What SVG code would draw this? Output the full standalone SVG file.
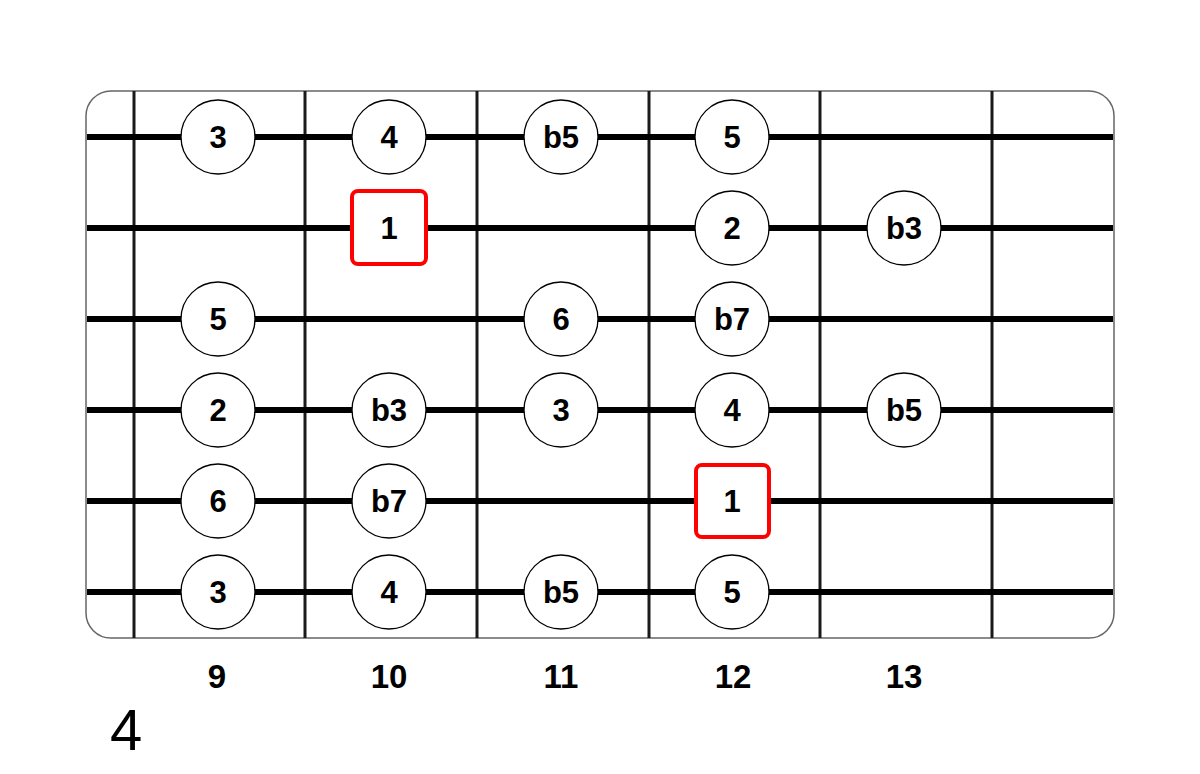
<svg xmlns="http://www.w3.org/2000/svg" width="1200" height="774" viewBox="0 0 1200 774">
<style>
.fret{stroke:#1a1a1a;stroke-width:3}
.str{stroke:#000;stroke-width:6}
.note circle{fill:#fff;stroke:#000;stroke-width:1.3}
.root rect{fill:#fff;stroke:#f00;stroke-width:4}
.lbl{font-family:"Liberation Sans",Arial,sans-serif;font-weight:bold;font-size:31px;text-anchor:middle;fill:#000}
.fn{font-family:"Liberation Sans",Arial,sans-serif;font-weight:bold;font-size:33px;text-anchor:middle;fill:#000}
</style>
<rect width="1200" height="774" fill="#fff"/>
<rect id="board" x="86" y="91" width="1028" height="547" rx="25" fill="#fff" stroke="#666" stroke-width="1.5"/>
<g id="connectors">
<line class="fret" x1="134" y1="91" x2="134" y2="638"/>
<line class="fret" x1="305" y1="91" x2="305" y2="638"/>
<line class="fret" x1="477" y1="91" x2="477" y2="638"/>
<line class="fret" x1="649" y1="91" x2="649" y2="638"/>
<line class="fret" x1="820" y1="91" x2="820" y2="638"/>
<line class="fret" x1="992" y1="91" x2="992" y2="638"/>
<line class="str" x1="87" y1="137" x2="1113" y2="137"/>
<line class="str" x1="87" y1="228" x2="1113" y2="228"/>
<line class="str" x1="87" y1="319" x2="1113" y2="319"/>
<line class="str" x1="87" y1="410" x2="1113" y2="410"/>
<line class="str" x1="87" y1="501" x2="1113" y2="501"/>
<line class="str" x1="87" y1="592" x2="1113" y2="592"/>
</g>
<g id="n1" class="note"><circle cx="218" cy="137" r="37"/><text class="lbl" x="218" y="148">3</text></g>
<g id="n2" class="note"><circle cx="389" cy="137" r="37"/><text class="lbl" x="389" y="148">4</text></g>
<g id="n3" class="note"><circle cx="561" cy="137" r="37"/><text class="lbl" x="561" y="148">b5</text></g>
<g id="n4" class="note"><circle cx="732" cy="137" r="37"/><text class="lbl" x="732" y="148">5</text></g>
<g id="r1" class="root"><rect x="352" y="191" width="74" height="73" rx="6"/><text class="lbl" x="389" y="239">1</text></g>
<g id="n5" class="note"><circle cx="732" cy="228" r="37"/><text class="lbl" x="732" y="239">2</text></g>
<g id="n6" class="note"><circle cx="904" cy="228" r="37"/><text class="lbl" x="904" y="239">b3</text></g>
<g id="n7" class="note"><circle cx="218" cy="319" r="37"/><text class="lbl" x="218" y="330">5</text></g>
<g id="n8" class="note"><circle cx="561" cy="319" r="37"/><text class="lbl" x="561" y="330">6</text></g>
<g id="n9" class="note"><circle cx="732" cy="319" r="37"/><text class="lbl" x="732" y="330">b7</text></g>
<g id="n10" class="note"><circle cx="218" cy="410" r="37"/><text class="lbl" x="218" y="421">2</text></g>
<g id="n11" class="note"><circle cx="389" cy="410" r="37"/><text class="lbl" x="389" y="421">b3</text></g>
<g id="n12" class="note"><circle cx="561" cy="410" r="37"/><text class="lbl" x="561" y="421">3</text></g>
<g id="n13" class="note"><circle cx="732" cy="410" r="37"/><text class="lbl" x="732" y="421">4</text></g>
<g id="n14" class="note"><circle cx="904" cy="410" r="37"/><text class="lbl" x="904" y="421">b5</text></g>
<g id="n15" class="note"><circle cx="218" cy="501" r="37"/><text class="lbl" x="218" y="512">6</text></g>
<g id="n16" class="note"><circle cx="389" cy="501" r="37"/><text class="lbl" x="389" y="512">b7</text></g>
<g id="r2" class="root"><rect x="696" y="465" width="73" height="72" rx="6"/><text class="lbl" x="732" y="512">1</text></g>
<g id="n17" class="note"><circle cx="218" cy="592" r="37"/><text class="lbl" x="218" y="603">3</text></g>
<g id="n18" class="note"><circle cx="389" cy="592" r="37"/><text class="lbl" x="389" y="603">4</text></g>
<g id="n19" class="note"><circle cx="561" cy="592" r="37"/><text class="lbl" x="561" y="603">b5</text></g>
<g id="n20" class="note"><circle cx="732" cy="592" r="37"/><text class="lbl" x="732" y="603">5</text></g>
<g id="fretnums">
<text class="fn" x="217" y="688">9</text>
<text class="fn" x="389" y="688">10</text>
<text class="fn" x="561" y="688">11</text>
<text class="fn" x="733" y="688">12</text>
<text class="fn" x="904" y="688">13</text>
</g>
<text x="110" y="750" font-family="'Liberation Sans',Arial,sans-serif" font-size="58" fill="#000">4</text>
</svg>
